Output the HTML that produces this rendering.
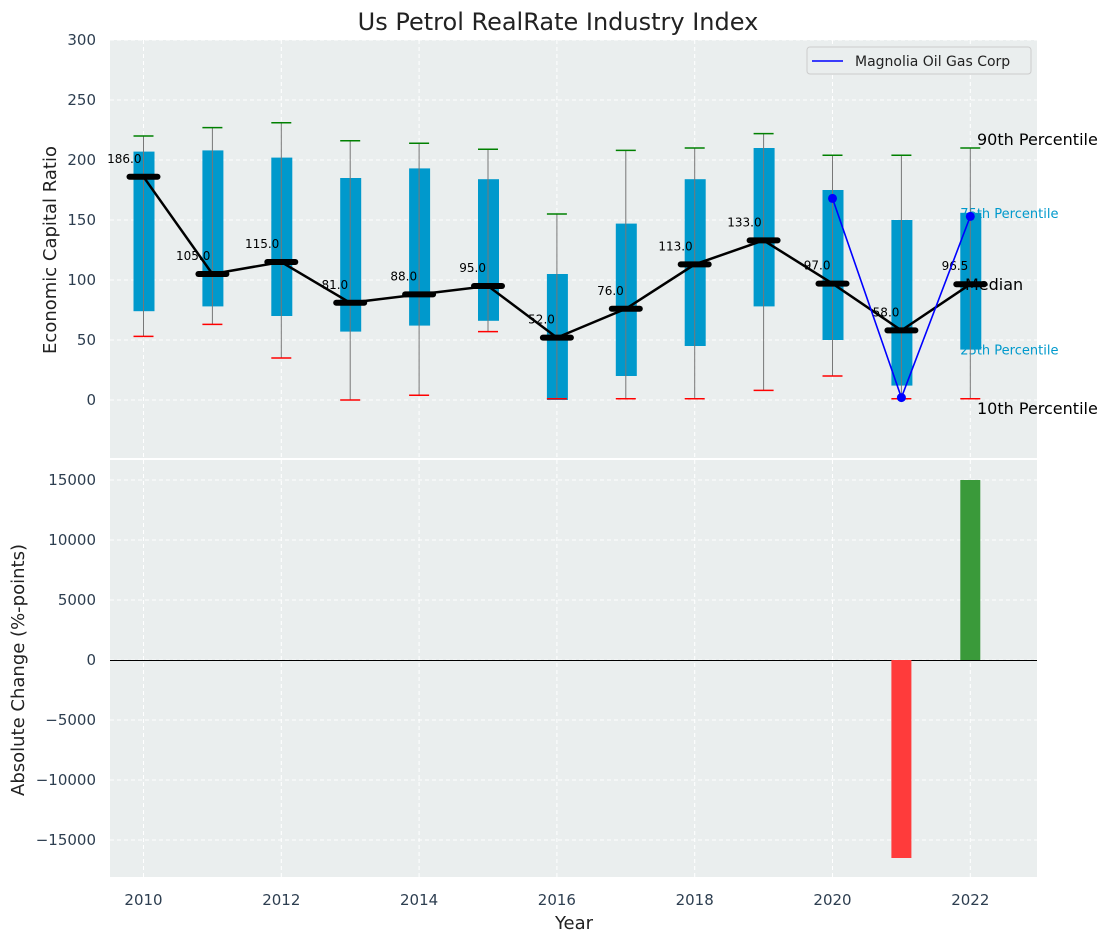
<!DOCTYPE html>
<html><head><meta charset="utf-8"><style>
body{margin:0;background:#fff;}
svg{display:block;font-family:"DejaVu Sans","Liberation Sans",sans-serif;}
</style></head><body>
<svg id="c" width="1112" height="942"></svg>
<script>
const years=[2010,2011,2012,2013,2014,2015,2016,2017,2018,2019,2020,2021,2022];
const p10=[53,63,35,0,4,57,1,1,1,8,20,1,1];
const p25=[74,78,70,57,62,66,0,20,45,78,50,12,42];
const p50=[186,105,115,81,88,95,52,76,113,133,97,58,96.5];
const p75=[207,208,202,185,193,184,105,147,184,210,175,150,156];
const p90=[220,227,231,216,214,209,155,208,210,222,204,204,210];
const magYears=[2020,2021,2022];
const magVals=[168,2,153];
const chgYears=[2021,2022];
const chgVals=[-16500,15000];
const yTicks1=[0,50,100,150,200,250,300];
const yTicks2=[-15000,-10000,-5000,0,5000,10000,15000];
const xTicks=[2010,2012,2014,2016,2018,2020,2022];

const svg=document.getElementById('c');
const NS='http://www.w3.org/2000/svg';
function el(t,a,p){const e=document.createElementNS(NS,t);for(const k in a)e.setAttribute(k,a[k]);(p||svg).appendChild(e);return e;}
const L=110,R=1037;
const X=v=>143.5+(v-2010)*68.9;
const y1=v=>400-v*1.2;
const y2=v=>660-v*0.012;
let p=el('rect',{x:L,y:40,width:R-L,height:418,fill:'#eaeeee'});

p=el('rect',{x:L,y:460,width:R-L,height:417,fill:'#eaeeee'});

const tc='#2d3e50';
xTicks.forEach(t=>{
 el('line',{x1:X(t),x2:X(t),y1:40,y2:458,stroke:'#fff','stroke-dasharray':'4,3','stroke-width':1});
 el('line',{x1:X(t),x2:X(t),y1:460,y2:877,stroke:'#fff','stroke-dasharray':'4,3','stroke-width':1});
 const tx=el('text',{x:X(t),y:905,'text-anchor':'middle','font-size':15,fill:tc});tx.textContent=t;
 
});
yTicks1.forEach(t=>{
 el('line',{x1:L,x2:R,y1:y1(t),y2:y1(t),stroke:'#fff','stroke-dasharray':'4,3'});
 const tx=el('text',{x:96,y:y1(t)+5,'text-anchor':'end','font-size':15,fill:tc});tx.textContent=t;
 
});
yTicks2.forEach(t=>{
 el('line',{x1:L,x2:R,y1:y2(t),y2:y2(t),stroke:'#fff','stroke-dasharray':'4,3'});
 const tx=el('text',{x:96,y:y2(t)+5,'text-anchor':'end','font-size':15,fill:tc});tx.textContent=(t<0?'\u2212'+(-t):t);
 
});
const last=years.length-1;
[['75th Percentile',p75[last]],['25th Percentile',p25[last]]].forEach(([s,v])=>{
 const t=el('text',{x:X(2022)-10,y:y1(v)+5,'font-size':13,fill:'#0099cc'});t.textContent=s;
 
});
years.forEach((yr,i)=>{
 const b=el('rect',{x:X(yr)-10,y:y1(p75[i]),width:21,height:y1(p25[i])-y1(p75[i]),fill:'#0099cc'});
 
 el('line',{x1:X(yr),x2:X(yr),y1:y1(p90[i]),y2:y1(p10[i]),stroke:'#777','stroke-width':1});
 el('line',{x1:X(yr)-10,x2:X(yr)+10,y1:y1(p90[i]),y2:y1(p90[i]),stroke:'#008000','stroke-width':1.5});
 el('line',{x1:X(yr)-10,x2:X(yr)+10,y1:y1(p10[i]),y2:y1(p10[i]),stroke:'#ff0000','stroke-width':1.5});
});
const ml=el('polyline',{points:years.map((yr,i)=>X(yr)+','+y1(p50[i])).join(' '),fill:'none',stroke:'#000','stroke-width':2.5});

years.forEach((yr,i)=>{
 el('line',{x1:X(yr)-14,x2:X(yr)+14,y1:y1(p50[i]),y2:y1(p50[i]),stroke:'#000','stroke-width':6,'stroke-linecap':'round'});
 const t=el('text',{x:X(yr)-2,y:y1(p50[i])-14,'text-anchor':'end','font-size':12,fill:'#000'});t.textContent=p50[i].toFixed(1);
 
});
const mg=el('polyline',{points:magYears.map((yr,i)=>X(yr)+','+y1(magVals[i])).join(' '),fill:'none',stroke:'#0000ff','stroke-width':1.6});

magYears.forEach((yr,i)=>{const c=el('circle',{cx:X(yr),cy:y1(magVals[i]),r:4.5,fill:'#0000ff'});
 });
[['90th Percentile',y1(p90[last])-3,977],['Median',y1(p50[last])+6,965],['10th Percentile',y1(p10[last])+15,977]].forEach(([s,yy,xx])=>{
 const t=el('text',{x:xx,y:yy,'font-size':16,fill:'#000'});t.textContent=s;
 
});
const lg=el('g',{});
el('rect',{x:807,y:47,width:224,height:27,rx:3,fill:'#eaeeee',stroke:'#ccc'},lg);
el('line',{x1:812,x2:843,y1:61,y2:61,stroke:'#0000ff','stroke-width':1.6},lg);
let t=el('text',{x:855,y:66,'font-size':14,fill:'#222'},lg);t.textContent='Magnolia Oil Gas Corp';
el('line',{x1:L,x2:R,y1:y2(0)+0.5,y2:y2(0)+0.5,stroke:'#000','stroke-width':1});
chgYears.forEach((yr,i)=>{const v=chgVals[i];
 const b=el('rect',{x:X(yr)-10,y:Math.min(y2(0),y2(v)),width:20,height:Math.abs(y2(v)-y2(0)),fill:v<0?'#ff3b3b':'#3a9a3a'});
 });
t=el('text',{x:558,y:30,'text-anchor':'middle','font-size':24,fill:'#222'});t.textContent='Us Petrol RealRate Industry Index';

t=el('text',{x:574,y:929,'text-anchor':'middle','font-size':18,fill:'#222'});t.textContent='Year';

t=el('text',{x:0,y:0,'text-anchor':'middle','font-size':18,fill:'#222',transform:'translate(56,250) rotate(-90)'});t.textContent='Economic Capital Ratio';

t=el('text',{x:0,y:0,'text-anchor':'middle','font-size':18,fill:'#222',transform:'translate(24,670) rotate(-90)'});t.textContent='Absolute Change (%-points)';

</script>
</body></html>
